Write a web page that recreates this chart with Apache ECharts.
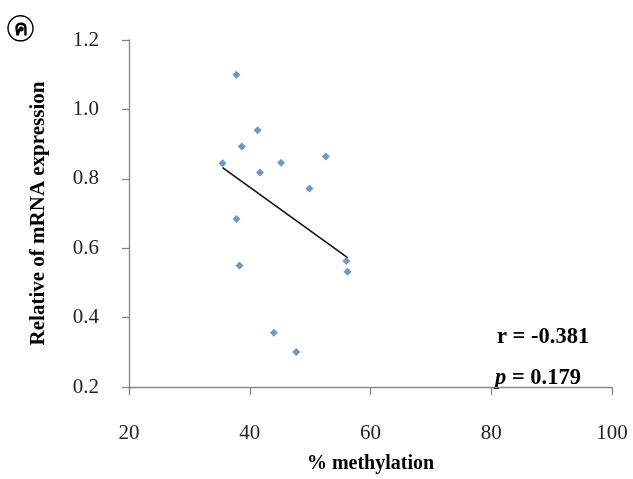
<!DOCTYPE html>
<html>
<head>
<meta charset="utf-8">
<script src="https://cdn.jsdelivr.net/npm/echarts@6/dist/echarts.min.js"></script>
<style>html,body{margin:0;padding:0;background:#fff}#c{width:633px;height:479px}</style>
</head>
<body>
<div id="c"></div>
<script>
// data
var methylation = [37.8, 41.3, 38.7, 35.5, 41.7, 45.2, 52.6, 49.9, 37.8, 38.3, 56.0, 56.2, 44.0, 47.7];
var expression  = [1.10, 0.940, 0.893, 0.845, 0.818, 0.846, 0.864, 0.772, 0.684, 0.550, 0.563, 0.532, 0.356, 0.301];
var trendX = [35.5, 56.2];
var trendY = [0.832, 0.573];
var xTicks = [20, 40, 60, 80, 100];
var yTicks = [0.2, 0.4, 0.6, 0.8, 1.0, 1.2];
var rText = 'r = -0.381';
var pValue = '0.179';
var panelLabel = 'ค';

var pts = methylation.map(function (x, i) { return [x, expression[i]]; });
var line = trendX.map(function (x, i) { return [x, trendY[i]]; });

var serif = '"Liberation Serif", "DejaVu Serif", serif';
var axisColor = '#868686';

var chart = echarts.init(document.getElementById('c'), null, { renderer: 'canvas' });
chart.setOption({
  animation: false,
  backgroundColor: '#fff',
  grid: { left: 129, right: 21, top: 40, bottom: 84 },
  xAxis: {
    type: 'value', min: xTicks[0], max: xTicks[xTicks.length - 1], interval: 20,
    name: '% methylation', nameLocation: 'middle', nameGap: 67,
    nameTextStyle: { fontFamily: serif, fontSize: 20, fontWeight: 'bold', color: '#000' },
    axisLine: { show: true, lineStyle: { color: axisColor, width: 1.3 } },
    axisTick: { show: true, length: 8, lineStyle: { color: axisColor, width: 1.3 } },
    axisLabel: { fontFamily: serif, fontSize: 21, color: '#222', margin: 36 },
    splitLine: { show: false }
  },
  yAxis: {
    type: 'value', min: yTicks[0], max: yTicks[yTicks.length - 1], interval: 0.2,
    name: 'Relative of mRNA expression', nameLocation: 'middle', nameGap: 80,
    nameTextStyle: { fontFamily: serif, fontSize: 21, fontWeight: 'bold', color: '#000' },
    axisLine: { show: true, lineStyle: { color: axisColor, width: 1.3 } },
    axisTick: { show: true, length: 7, lineStyle: { color: axisColor, width: 1.3 } },
    axisLabel: { fontFamily: serif, fontSize: 21, color: '#222', margin: 30,
      formatter: function (v) { return v.toFixed(1); } },
    splitLine: { show: false }
  },
  series: [
    {
      type: 'line', data: line, symbol: 'none', silent: true,
      lineStyle: { color: '#111', width: 1.6 }, z: 1
    },
    {
      type: 'scatter', data: pts, symbol: 'diamond', symbolSize: 8,
      itemStyle: { color: '#4a7ebb' }, z: 3
    }
  ],
  graphic: [
    { type: 'circle', shape: { cx: 20.5, cy: 28.3, r: 12.5 }, style: { fill: 'none', stroke: '#000', lineWidth: 1.4 } },
    { type: 'text', x: 20.5, y: 29, style: { text: panelLabel, fontSize: 21, fontWeight: 'bold',
        fontFamily: '"Noto Sans", "DejaVu Sans", sans-serif', fill: '#000', align: 'center', verticalAlign: 'middle' } },
    { type: 'text', x: 497, y: 337, style: { text: rText, fontSize: 22.5, fontWeight: 'bold',
        fontFamily: serif, fill: '#000', verticalAlign: 'middle' } },
    { type: 'text', x: 495, y: 378, style: {
        text: '{i|p} = ' + pValue, fontSize: 22.5, fontWeight: 'bold', fontFamily: serif, fill: '#000',
        verticalAlign: 'middle',
        rich: { i: { fontStyle: 'italic', fontWeight: 'bold', fontSize: 22.5, fontFamily: serif } } } }
  ]
});
</script>
</body>
</html>
